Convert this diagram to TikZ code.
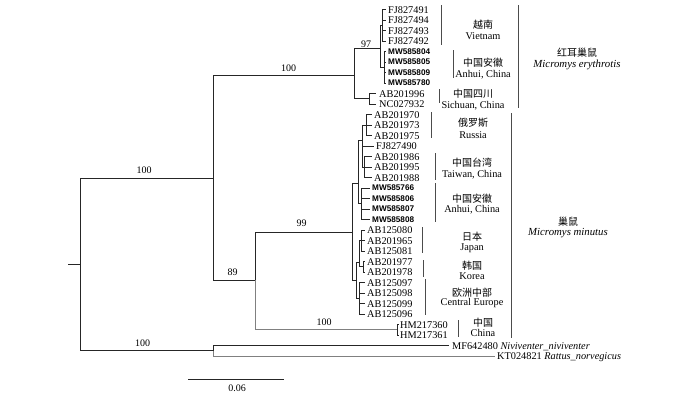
\documentclass[tikz,border=0pt]{standalone}
\usepackage{fontspec}
\setmainfont{Liberation Serif}
\newfontfamily\cjk{Noto Sans CJK SC}
\newfontfamily\mwf{Liberation Sans}
\tikzset{
  branch/.style={line width=0.8pt, draw=black!85},
  branchg/.style={line width=0.8pt, draw=black!50},
  grpbar/.style={line width=0.8pt, draw=black!70},
  taxon/.style={anchor=west, inner sep=0pt, text height=7pt, text depth=0pt, font=\fontsize{10.3}{11}\selectfont},
  mwtaxon/.style={anchor=west, inner sep=0pt, text height=5.8pt, text depth=0pt, font=\mwf\bfseries\fontsize{8.2}{9}\selectfont},
  bootlbl/.style={inner sep=0pt, font=\fontsize{10}{10}\selectfont},
  cnlbl/.style={inner sep=0pt, font=\cjk\fontsize{10}{10}\selectfont},
  enlbl/.style={inner sep=0pt, font=\fontsize{10.3}{11}\selectfont},
  splbl/.style={inner sep=0pt, font=\fontsize{10.8}{11}\selectfont\itshape},
  tipedge/.style={branch, shorten >=2pt},
}
\begin{document}
\begin{tikzpicture}[x=1pt,y=-1pt]
\useasboundingbox (0,0) rectangle (700,394);

% ---------- tip labels ----------
\node[taxon] (l0) at (388,9.5) {FJ827491};
\node[taxon] (l1) at (388,20) {FJ827494};
\node[taxon] (l2) at (388,30.5) {FJ827493};
\node[taxon] (l3) at (388,41) {FJ827492};
\node[mwtaxon] (l4) at (388,51.5) {MW585804};
\node[mwtaxon] (l5) at (388,62) {MW585805};
\node[mwtaxon] (l6) at (388,72.5) {MW585809};
\node[mwtaxon] (l7) at (388,83) {MW585780};
\node[taxon] (l8) at (379,93.5) {AB201996};
\node[taxon] (l9) at (379,104) {NC027932};
\node[taxon] (l10) at (374,114.5) {AB201970};
\node[taxon] (l11) at (374,125) {AB201973};
\node[taxon] (l12) at (374,135.5) {AB201975};
\node[taxon] (l13) at (376,146) {FJ827490};
\node[taxon] (l14) at (374,156.5) {AB201986};
\node[taxon] (l15) at (374,167) {AB201995};
\node[taxon] (l16) at (374,177.5) {AB201988};
\node[mwtaxon] (l17) at (372,188) {MW585766};
\node[mwtaxon] (l18) at (372,198.5) {MW585806};
\node[mwtaxon] (l19) at (372,209) {MW585807};
\node[mwtaxon] (l20) at (372,219.5) {MW585808};
\node[taxon] (l21) at (367,230) {AB125080};
\node[taxon] (l22) at (367,240.5) {AB201965};
\node[taxon] (l23) at (367,251) {AB125081};
\node[taxon] (l24) at (367,261.5) {AB201977};
\node[taxon] (l25) at (367,272) {AB201978};
\node[taxon] (l26) at (367,282.5) {AB125097};
\node[taxon] (l27) at (367,293) {AB125098};
\node[taxon] (l28) at (367,303.5) {AB125099};
\node[taxon] (l29) at (367,314) {AB125096};
\node[taxon] (l30) at (400,324.5) {HM217360};
\node[taxon] (l31) at (400,335) {HM217361};
\node[taxon] (l32) at (452,345.5) {MF642480 \textit{Niviventer\_niviventer}};
\node[taxon] (l33) at (497,356) {KT024821 \textit{Rattus\_norvegicus}};

% ---------- internal nodes ----------
\coordinate (rs) at (68,264.5);
\coordinate (root) at (80,264.5);
\coordinate (nA) at (213,178);
\coordinate (nB) at (213,350.75);
\coordinate (nE) at (354,75);
\coordinate (n89) at (255,280);
\coordinate (n97) at (380,48);
\coordinate (nS) at (369,98.75);
\coordinate (nVN) at (382,25);
\coordinate (nAH) at (384,67);
\coordinate (n99) at (352,232);
\coordinate (nHM) at (397,329.75);
\coordinate (nU) at (358,183);
\coordinate (nL) at (356,280);
\coordinate (nU1) at (362,140);
\coordinate (nA2) at (361,203.75);
\coordinate (nR) at (366,125);
\coordinate (nT) at (364,167);
\coordinate (nJK) at (359,262);
\coordinate (nCE) at (359,298);
\coordinate (nJ) at (361,240.5);
\coordinate (nK) at (363,266.75);

% ---------- branches ----------
\draw[branch] (rs) -- (root);
\draw[branch] (root) |- (nA);
\draw[branch] (root) |- (nB);
\draw[branch] (nA) |- (nE);
\draw[branch] (nA) |- (n89);
\draw[branch] (nE) |- (n97);
\draw[branch] (nE) |- (nS);
\draw[branch] (n97) |- (nVN);
\draw[branch] (n97) |- (nAH);
\draw[branch] (n89) |- (n99);
\draw[branchg] (n89) |- (nHM);
\draw[branch] (n99) |- (nU);
\draw[branch] (n99) |- (nL);
\draw[branch] (nU) |- (nU1);
\draw[branch] (nU) |- (nA2);
\draw[branch] (nU1) |- (nR);
\draw[branch] (nU1) |- (nT);
\draw[branch] (nL) |- (nJK);
\draw[branch] (nL) |- (nCE);
\draw[branch] (nJK) |- (nJ);
\draw[branch] (nJK) |- (nK);

% tip edges
\foreach \i in {0,1,2,3} \draw[tipedge] (nVN) |- (l\i.west);
\foreach \i in {4,5,6,7} \draw[tipedge] (nAH) |- (l\i.west);
\foreach \i in {8,9} \draw[tipedge, shorten >=3pt] (nS) |- (l\i.west);
\foreach \i in {10,11,12} \draw[tipedge] (nR) |- (l\i.west);
\draw[tipedge] (nU1) |- (l13.west);
\foreach \i in {14,15,16} \draw[tipedge] (nT) |- (l\i.west);
\foreach \i in {17,18,19,20} \draw[tipedge] (nA2) |- (l\i.west);
\foreach \i in {21,22,23} \draw[tipedge] (nJ) |- (l\i.west);
\foreach \i in {24,25} \draw[tipedge] (nK) |- (l\i.west);
\foreach \i in {26,27,28,29} \draw[tipedge] (nCE) |- (l\i.west);
\foreach \i in {30,31} \draw[tipedge, shorten >=1pt] (nHM) |- (l\i.west);
\draw[tipedge, shorten >=3pt] (nB) |- (l32.west);
\draw[branchg, shorten >=2pt] (nB) |- (l33.west);

% ---------- bootstrap values ----------
\node[bootlbl] (b1) at (144,170.5) {100};
\node[bootlbl] (b2) at (288.5,68) {100};
\node[bootlbl] (b3) at (366,44) {97};
\node[bootlbl] (b4) at (232.5,272) {89};
\node[bootlbl] (b5) at (301.5,223.5) {99};
\node[bootlbl] (b6) at (324,322) {100};
\node[bootlbl] (b7) at (142.5,343) {100};

% ---------- group bars ----------
\coordinate (g1a) at (441,5);   \coordinate (g1b) at (441,45);
\coordinate (g2a) at (453,50);  \coordinate (g2b) at (453,78);
\coordinate (g3a) at (439,89);  \coordinate (g3b) at (439,103);
\coordinate (g4a) at (431,112); \coordinate (g4b) at (431,138);
\coordinate (g5a) at (435,153); \coordinate (g5b) at (435,180);
\coordinate (g6a) at (435,183); \coordinate (g6b) at (435,222);
\coordinate (g7a) at (422,227); \coordinate (g7b) at (422,253);
\coordinate (g8a) at (423,260); \coordinate (g8b) at (423,277);
\coordinate (g9a) at (425,279); \coordinate (g9b) at (425,315);
\coordinate (g10a) at (458,320); \coordinate (g10b) at (458,337);
\coordinate (s1a) at (518,5);   \coordinate (s1b) at (518,108);
\coordinate (s2a) at (511,113); \coordinate (s2b) at (511,338);
\foreach \g in {g1,g2,g3,g4,g5,g6,g7,g8,g9,g10,s1,s2} \draw[grpbar] (\g a) -- (\g b);

% ---------- group labels ----------
\node[cnlbl] (c1) at (483,25) {越南};
\node[enlbl] (e1) at (483,36) {Vietnam};
\node[cnlbl] (c2) at (483,63) {中国安徽};
\node[enlbl] (e2) at (483,75) {Anhui, China};
\node[cnlbl] (c3) at (473,94) {中国四川};
\node[enlbl] (e3) at (473,106) {Sichuan, China};
\node[cnlbl] (c4) at (473,123) {俄罗斯};
\node[enlbl] (e4) at (473,135) {Russia};
\node[cnlbl] (c5) at (472,163) {中国台湾};
\node[enlbl] (e5) at (472,175) {Taiwan, China};
\node[cnlbl] (c6) at (472,199) {中国安徽};
\node[enlbl] (e6) at (472,210) {Anhui, China};
\node[cnlbl] (c7) at (472,237) {日本};
\node[enlbl] (e7) at (472,248) {Japan};
\node[cnlbl] (c8) at (472,266) {韩国};
\node[enlbl] (e8) at (472,276) {Korea};
\node[cnlbl] (c9) at (472,293) {欧洲中部};
\node[enlbl] (e9) at (472,303) {Central Europe};
\node[cnlbl] (c10) at (483,323) {中国};
\node[enlbl] (e10) at (483,333) {China};

% ---------- species labels ----------
\node[cnlbl] (sp1c) at (577,53) {红耳巢鼠};
\node[splbl] (sp1e) at (577,65) {Micromys erythrotis};
\node[cnlbl] (sp2c) at (568,222) {巢鼠};
\node[splbl] (sp2e) at (568,233) {Micromys minutus};

% ---------- scale bar ----------
\coordinate (sb1) at (188,379);
\coordinate (sb2) at (284,379);
\draw[branch] (sb1) -- (sb2);
\node[bootlbl] (sbl) at (237,388) {0.06};
\end{tikzpicture}
\end{document}
